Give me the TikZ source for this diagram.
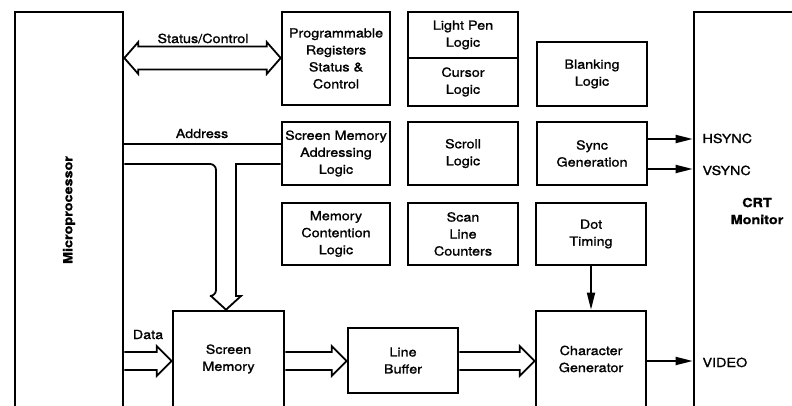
\documentclass[tikz,border=0pt]{standalone}
\usepackage{fontspec}
\setmainfont{TeX Gyre Heros}[FakeStretch=1.15, FakeBold=1.2]
\usetikzlibrary{calc,arrows.meta}

\newcommand{\dfont}{\fontsize{12.5}{17}\selectfont}

\tikzset{
  blk/.style={draw, line width=2.6pt, align=center, inner sep=0pt,
              minimum width=110pt, minimum height=63pt},
  wire/.style={line width=1.8pt},
  sig/.style={wire, -{Triangle[length=17pt,width=8pt]}},
  bus/.style={wire, line join=miter}
}

\begin{document}
\begin{tikzpicture}[x=1pt, y=-1pt, font=\dfont]
  \clip (0,0) rectangle (792,406);
  % Left-hand side: processor and screen memory
  \node[blk, minimum width=108pt, minimum height=396pt,
        label={[rotate=90, font=\dfont\bfseries]center:Microprocessor}] (mp) at (69,210) {};
  \node[blk, minimum width=111pt, minimum height=96pt] (smem) at (228.5,359) {Screen\\Memory};
  % Middle: the logic blocks
  \node[blk, minimum width=108pt, minimum height=93pt] (preg) at (336,58.5) {Programmable\\Registers\\Status \&\\Control};
  \node[blk, minimum width=108pt] (smal) at (336,153.5) {Screen Memory\\Addressing\\Logic};
  \node[blk, minimum width=108pt, minimum height=62pt] (mcon) at (336,234) {Memory\\Contention\\Logic};
  \node[blk, minimum height=46pt] (lpen)   at (463,35)    {Light Pen\\Logic};
  \node[blk, minimum height=48pt] (curs)   at (463,82)    {Cursor\\Logic};
  \node[blk]                      (scroll) at (463,153.5) {Scroll\\Logic};
  \node[blk, minimum height=62pt] (scan)   at (463,234)   {Scan\\Line\\Counters};
  \node[blk, minimum height=64pt] (blank)  at (592,74)    {Blanking\\Logic};
  \node[blk]                      (sync)   at (592,153.5) {Sync\\Generation};
  \node[blk, minimum height=62pt] (dot)    at (591,234)   {Dot\\Timing};
  \node[blk, minimum height=65pt] (lbuf)   at (403,360.5) {Line\\Buffer};
  \node[blk, minimum height=96pt] (cgen)   at (591,359)   {Character\\Generator};
  % Right-hand side: the monitor
  \node[blk, minimum width=126pt, minimum height=398pt, font=\dfont\bfseries] (crt) at (757,211) {CRT\\Monitor};

  % buses
  \draw[bus] (mp.east |- 0,58) -- ++(14,-16) -- ++(0,4.5) -- ($(preg.west |- 0,58)+(-14,-11.5)$)
        -- ++(0,-4.5) -- (preg.west |- 0,58) -- ++(-14,16) -- ++(0,-4.5)
        -- ($(mp.east |- 0,58)+(14,11.5)$) -- ++(0,4.5) -- cycle;
  \node[anchor=base] (lsc) at (203,43) {Status/Control};
  \draw[wire] (mp.east |- 0,144) -- (smal.west |- 0,144);
  \node[anchor=base] (ladr) at (202,138) {Address};
  \draw[bus] (mp.east |- 0,164) [rounded corners=6pt] -- (216,164) -- (216,296) [sharp corners]
        -- (211,296) -- (226,0 |- smem.north) -- (241,296) -- (236,296) -- (236,164)
        [rounded corners=6pt] -- (smal.west |- 0,164);
  \draw[bus] (mp.east |- 0,352) -- ($(smem.west |- 0,352)+(-15,0)$) -- ++(0,-6)
        -- (smem.west |- 0,361) -- ++(-15,15) -- ++(0,-6) -- (mp.east |- 0,370);
  \node[anchor=base] (ldat) at (148,339) {Data};
  \draw[bus] (smem.east |- 0,352) -- ($(lbuf.west |- 0,352)+(-15,0)$) -- ++(0,-6)
        -- (lbuf.west |- 0,361) -- ++(-15,15) -- ++(0,-6) -- (smem.east |- 0,370);
  \draw[bus] (lbuf.east |- 0,352) -- ($(cgen.west |- 0,352)+(-15,0)$) -- ++(0,-6)
        -- (cgen.west |- 0,361) -- ++(-15,15) -- ++(0,-6) -- (lbuf.east |- 0,370);

  % signals to the monitor
  \draw[sig] (dot) -- (cgen);
  \draw[sig] (sync.east |- 0,139) -- (crt.west |- 0,139);
  \draw[sig] (sync.east |- 0,169) -- (crt.west |- 0,169);
  \draw[sig] (cgen.east |- 0,361) -- (crt.west |- 0,361);
  \node[anchor=base west] (lhs)  at (699,143) {HSYNC};
  \node[anchor=base west] (lvs)  at (699,175) {VSYNC};
  \node[anchor=base west] (lvid) at (699,367) {VIDEO};
\end{tikzpicture}
\end{document}
